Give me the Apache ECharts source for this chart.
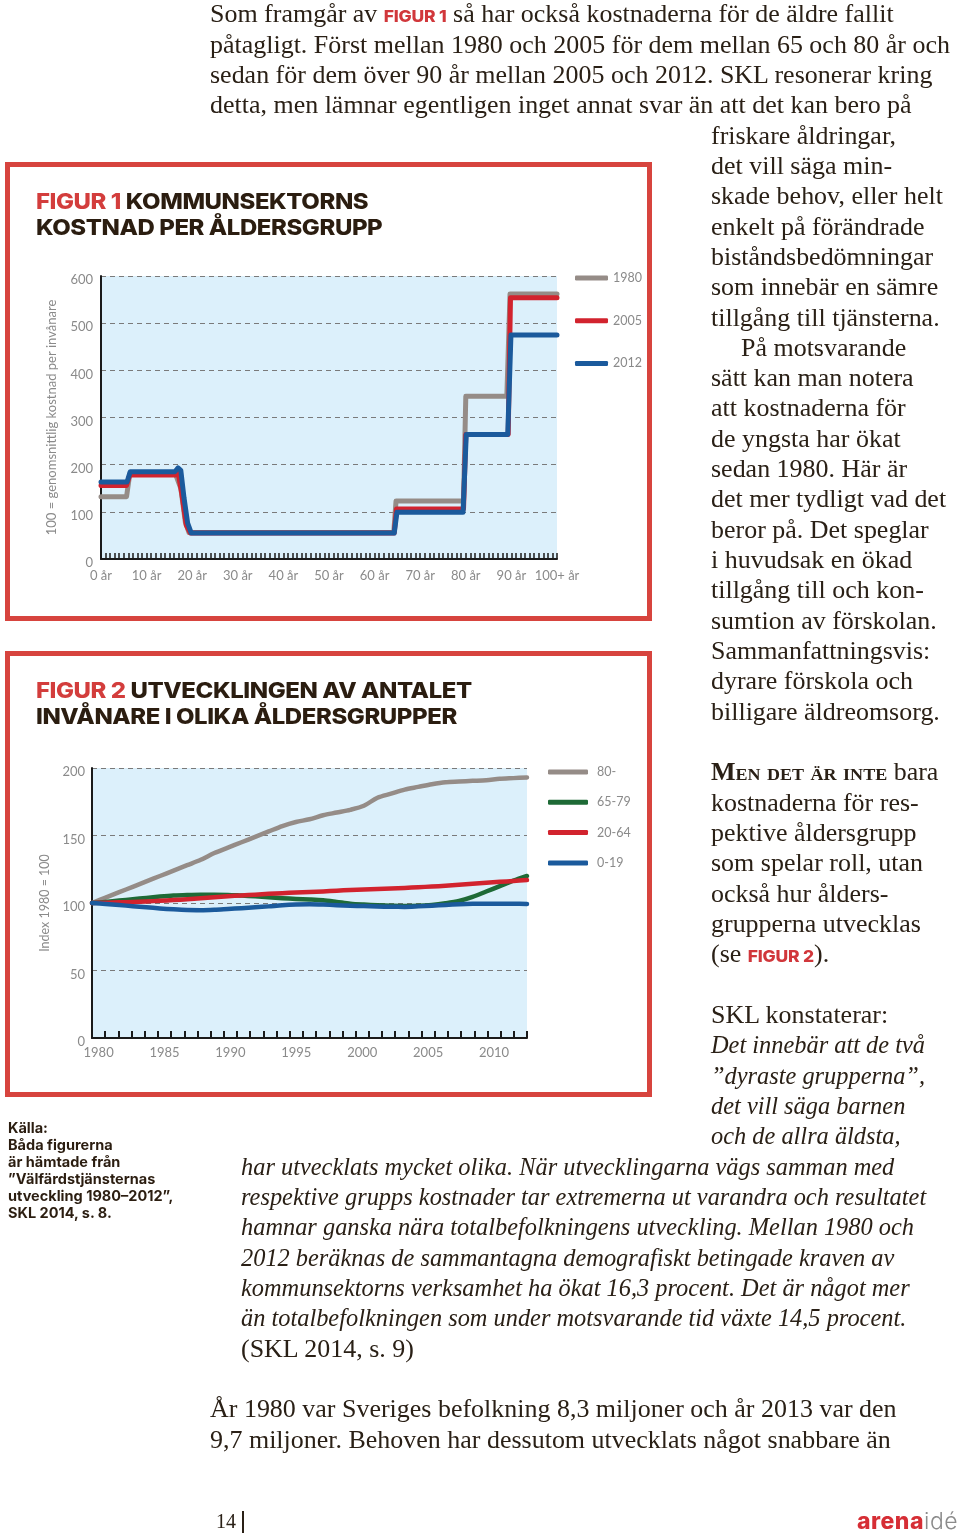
<!DOCTYPE html>
<html><head><meta charset="utf-8">
<script src="https://cdn.jsdelivr.net/npm/echarts@6/dist/echarts.min.js"></script>
<style>
html,body{margin:0;padding:0;background:#fff;}
#page{position:relative;width:960px;height:1539px;overflow:hidden;background:#fff;}
#chart{position:absolute;left:0;top:0;width:960px;height:1539px;z-index:1;}
.box{position:absolute;border:5.5px solid #d7443e;box-sizing:border-box;z-index:0;}
.ln{position:absolute;white-space:nowrap;font-family:'Liberation Serif','Times New Roman',serif;font-size:24.5px;line-height:24.5px;color:#2a2016;transform:scaleX(1.06);transform-origin:0 0;z-index:2;}
.ln.itl{transform:scaleX(0.995);font-style:italic;}
.fg{font-family:Inter,'Liberation Sans',sans-serif;font-weight:800;color:#d1373b;font-size:16.5px;letter-spacing:-0.2px;font-style:normal;}
.sc{font-variant:small-caps;font-weight:bold;}
.ttl{position:absolute;left:36px;font-family:Inter,'Liberation Sans',sans-serif;font-weight:800;font-size:22px;line-height:25.6px;color:#2b1d10;letter-spacing:-0.4px;white-space:nowrap;z-index:2;transform:scaleX(1.09);transform-origin:0 0;}
.ttl b{color:#d33d3c;font-weight:800;}
.src{position:absolute;left:8px;top:1119px;font-family:Inter,'Liberation Sans',sans-serif;font-weight:700;font-size:14.5px;line-height:17px;color:#2b1d10;letter-spacing:0px;white-space:nowrap;z-index:2;}
.foot{position:absolute;white-space:nowrap;z-index:2;}
</style></head>
<body>
<div id="page">
  <div class="box" style="left:5px;top:162px;width:647px;height:459px;"></div>
  <div class="box" style="left:5px;top:651px;width:647px;height:446px;"></div>
  <div id="chart"></div>
  <div class="ttl" style="top:189px;"><b>FIGUR 1</b> KOMMUNSEKTORNS<br>KOSTNAD PER ÅLDERSGRUPP</div>
  <div class="ttl" style="top:678px;"><b>FIGUR 2</b> UTVECKLINGEN AV ANTALET<br>INVÅNARE I OLIKA ÅLDERSGRUPPER</div>
  <div class="src">Källa:<br>Båda figurerna<br>är hämtade från<br>”Välfärdstjänsternas<br>utveckling 1980–2012”,<br>SKL 2014, s. 8.</div>
  <div class="foot" style="left:216px;top:1510px;font-family:'Liberation Serif',serif;font-size:20px;color:#2a2016;">14</div>
  <div class="foot" style="left:242px;top:1511px;width:1.5px;height:22px;background:#2a2016;"></div>
  <div class="foot" style="left:857px;top:1507px;font-family:Inter,'Liberation Sans',sans-serif;font-size:23px;letter-spacing:0.5px;"><span style="font-weight:800;color:#d62e35;">arena</span><span style="font-weight:300;color:#8b8b8b;">idé</span></div>
  <div id="text"></div>
</div>
<script>
// ---------- Figure 1 data: cost per age group (100 = average cost per inhabitant) ----------
const ageTickLabels = ['0 år','10 år','20 år','30 år','40 år','50 år','60 år','70 år','80 år','90 år','100+ år'];
const costNames = ['1980','2005','2012'];
const cost1980 = [[0,132],[5.6,132],[6.3,180],[16.3,181],[16.7,184],[17.5,150],[18.5,78],[19.3,56],[64.2,56],[64.7,123],[79.5,123],[80,345],[89,345],[89.7,562],[100,562]];
const cost2005 = [[0,156],[5.6,156],[6.3,178],[16.3,178],[16.9,184],[17.7,140],[18.7,72],[19.6,55],[64.3,55],[64.8,106],[79.5,106],[80,264],[89.3,264],[89.8,554],[100,554]];
const cost2012 = [[0,163],[5.7,163],[6.4,185],[16.2,185],[16.9,193],[17.5,188],[18.2,130],[19,76],[19.8,55],[64.3,55],[64.9,99],[79.4,99],[80.1,264],[89.2,264],[89.9,475],[100,475]];

// ---------- Figure 2 data: population index per age group (1980 = 100) ----------
const years = [1980,1981,1982,1983,1984,1985,1986,1987,1988,1989,1990,1991,1992,1993,1994,1995,1996,1997,1998,1999,2000,2001,2002,2003,2004,2005,2006,2007,2008,2009,2010,2011,2012];
const popNames = ['80-','65-79','20-64','0-19'];
const pop80   = [100,104,108,112,116,120,124,128,132,137,141,145,149,153,157,160,162,165,167,169,172,178,181,184,186,188,189.5,190,190.5,191,192,192.5,193];
const pop6579 = [100,100.8,101.8,102.8,103.8,104.8,105.6,106,106.2,106.2,106,105.5,105,104.3,103.6,103,102.6,102,100.8,99.5,98.8,98.3,98,97.8,98,98.6,99.8,101.5,104.5,108.5,112.5,116.5,120];
const pop2064 = [100,100.2,100.5,100.8,101.2,101.6,102.2,102.8,103.5,104.2,105,105.6,106.2,106.8,107.3,107.8,108.2,108.6,109.1,109.6,110,110.4,110.8,111.2,111.7,112.2,112.8,113.5,114.3,115,115.7,116.3,117];
const pop019  = [100,99.3,98.5,97.6,96.8,96,95.3,94.8,94.7,95,95.6,96.2,96.8,97.5,98.3,98.8,99,98.8,98.4,98,97.7,97.4,97.2,97.1,97.5,98,98.6,99.1,99.4,99.5,99.5,99.4,99.3];

// ---------- Page text ----------
const bodyLines = [
 [0,210,'Som framgår av <span class="fg">FIGUR 1</span> så har också kostnaderna för de äldre fallit'],
 [1,210,'påtagligt. Först mellan 1980 och 2005 för dem mellan 65 och 80 år och'],
 [2,210,'sedan för dem över 90 år mellan 2005 och 2012. SKL resonerar kring'],
 [3,210,'detta, men lämnar egentligen inget annat svar än att det kan bero på'],
 [4,711,'friskare åldringar,'],
 [5,711,'det vill säga min-'],
 [6,711,'skade behov, eller helt'],
 [7,711,'enkelt på förändrade'],
 [8,711,'biståndsbedömningar'],
 [9,711,'som innebär en sämre'],
 [10,711,'tillgång till tjänsterna.'],
 [11,741,'På motsvarande'],
 [12,711,'sätt kan man notera'],
 [13,711,'att kostnaderna för'],
 [14,711,'de yngsta har ökat'],
 [15,711,'sedan 1980. Här är'],
 [16,711,'det mer tydligt vad det'],
 [17,711,'beror på. Det speglar'],
 [18,711,'i huvudsak en ökad'],
 [19,711,'tillgång till och kon-'],
 [20,711,'sumtion av förskolan.'],
 [21,711,'Sammanfattningsvis:'],
 [22,711,'dyrare förskola och'],
 [23,711,'billigare äldreomsorg.'],
 [25,711,'<span class="sc">Men det är inte</span> bara'],
 [26,711,'kostnaderna för res-'],
 [27,711,'pektive åldersgrupp'],
 [28,711,'som spelar roll, utan'],
 [29,711,'också hur ålders-'],
 [30,711,'grupperna utvecklas'],
 [31,711,'(se <span class="fg">FIGUR 2</span>).'],
 [33,711,'SKL konstaterar:'],
 [34,711,'Det innebär att de två','itl'],
 [35,711,'”dyraste grupperna”,','itl'],
 [36,711,'det vill säga barnen','itl'],
 [37,711,'och de allra äldsta,','itl'],
 [38,241,'har utvecklats mycket olika. När utvecklingarna vägs samman med','itl'],
 [39,241,'respektive grupps kostnader tar extremerna ut varandra och resultatet','itl'],
 [40,241,'hamnar ganska nära totalbefolkningens utveckling. Mellan 1980 och','itl'],
 [41,241,'2012 beräknas de sammantagna demografiskt betingade kraven av','itl'],
 [42,241,'kommunsektorns verksamhet ha ökat 16,3 procent. Det är något mer','itl'],
 [43,241,'än totalbefolkningen som under motsvarande tid växte 14,5 procent.','itl'],
 [44,241,'(SKL 2014, s. 9)'],
 [46,210,'År 1980 var Sveriges befolkning 8,3 miljoner och år 2013 var den'],
 [47,210,'9,7 miljoner. Behoven har dessutom utvecklats något snabbare än']
];
const textHost = document.getElementById('text');
bodyLines.forEach(function(l){
  const d = document.createElement('div');
  d.className = 'ln' + (l[3] ? ' ' + l[3] : '');
  d.style.left = l[1] + 'px';
  d.style.top = (2.2 + 30.33 * l[0]) + 'px';
  d.innerHTML = l[2];
  textHost.appendChild(d);
});

// ---------- Chart ----------
const chart = echarts.init(document.getElementById('chart'), null, {renderer:'canvas'});
const lbl = {color:'#8a8a8a', fontFamily:'Lato', fontSize:13};
const axisLine = {show:true, lineStyle:{color:'#1a1a1a', width:2}};
const splitDash = {show:true, lineStyle:{type:[5,4], color:'#7a7a7a', width:1}};
const lineSeries = function(name, data, color, xi, yi, smooth, w){
  return {name:name, type:'line', data:data, xAxisIndex:xi, yAxisIndex:yi, symbol:'none', smooth:smooth,
          color:color, lineStyle:{color:color, width:w, cap:'round', join:'round'}, emphasis:{disabled:true}};
};
const option = {
  animation:false,
  backgroundColor:'transparent',
  grid:[
    {left:101, top:276, width:456, height:283, show:true, backgroundColor:'#dcf0fb', borderWidth:0},
    {left:92, top:768, width:435, height:270, show:true, backgroundColor:'#dcf0fb', borderWidth:0}
  ],
  xAxis:[
    {gridIndex:0, type:'value', min:0, max:100, interval:1,
     axisLine:axisLine,
     axisTick:{show:true, inside:true, length:6, lineStyle:{color:'#1a1a1a', width:1.5}},
     axisLabel:Object.assign({}, lbl, {margin:10, formatter:function(v){return v % 10 === 0 ? ageTickLabels[v/10] : '';}}),
     splitLine:{show:false}},
    {gridIndex:1, type:'category', data:years.map(String), boundaryGap:true,
     axisLine:axisLine,
     axisTick:{show:true, inside:true, length:7, interval:0, lineStyle:{color:'#1a1a1a', width:2}},
     axisLabel:Object.assign({}, lbl, {margin:8, interval:4}),
     splitLine:{show:false}},
    {gridIndex:1, type:'value', min:1980, max:2012, show:false}
  ],
  yAxis:[
    {gridIndex:0, type:'value', min:0, max:600, interval:100,
     name:'100 = genomsnittlig kostnad per invånare', nameLocation:'middle', nameGap:43,
     nameTextStyle:{color:'#8a8a8a', fontFamily:'Lato', fontSize:13},
     axisLine:axisLine, axisTick:{show:false},
     axisLabel:Object.assign({}, lbl, {margin:8, verticalAlign:'top', lineHeight:8}), splitLine:splitDash},
    {gridIndex:1, type:'value', min:0, max:200, interval:50,
     name:'Index 1980 = 100', nameLocation:'middle', nameGap:41,
     nameTextStyle:{color:'#8a8a8a', fontFamily:'Lato', fontSize:12.5},
     axisLine:axisLine, axisTick:{show:false},
     axisLabel:Object.assign({}, lbl, {margin:7, verticalAlign:'top', lineHeight:8}), splitLine:splitDash}
  ],
  legend:[
    {data:costNames, orient:'vertical', left:570, top:266, itemWidth:33, itemHeight:5, itemGap:28.7,
     icon:'roundRect', selectedMode:false, textStyle:{color:'#8a8a8a', fontFamily:'Lato', fontSize:12.5, lineHeight:14}},
    {data:popNames, orient:'vertical', left:543, top:760, itemWidth:40, itemHeight:5, itemGap:16.3,
     icon:'roundRect', selectedMode:false, textStyle:{color:'#8a8a8a', fontFamily:'Lato', fontSize:12.5, lineHeight:14, padding:[0,0,0,4]}}
  ],
  series:[
    lineSeries(costNames[0], cost1980, '#958c87', 0, 0, false, 5),
    lineSeries(costNames[1], cost2005, '#d2232e', 0, 0, false, 5),
    lineSeries(costNames[2], cost2012, '#1b5a9c', 0, 0, false, 5),
    lineSeries(popNames[0], years.map(function(y,i){return [y, pop80[i]];}), '#958c87', 2, 1, 0.3, 4.5),
    lineSeries(popNames[1], years.map(function(y,i){return [y, pop6579[i]];}), '#1e6a36', 2, 1, 0.3, 4.5),
    lineSeries(popNames[2], years.map(function(y,i){return [y, pop2064[i]];}), '#d2232e', 2, 1, 0.3, 4.5),
    lineSeries(popNames[3], years.map(function(y,i){return [y, pop019[i]];}), '#1b5a9c', 2, 1, 0.3, 4.5)
  ]
};
chart.setOption(option);
</script>
</body></html>
